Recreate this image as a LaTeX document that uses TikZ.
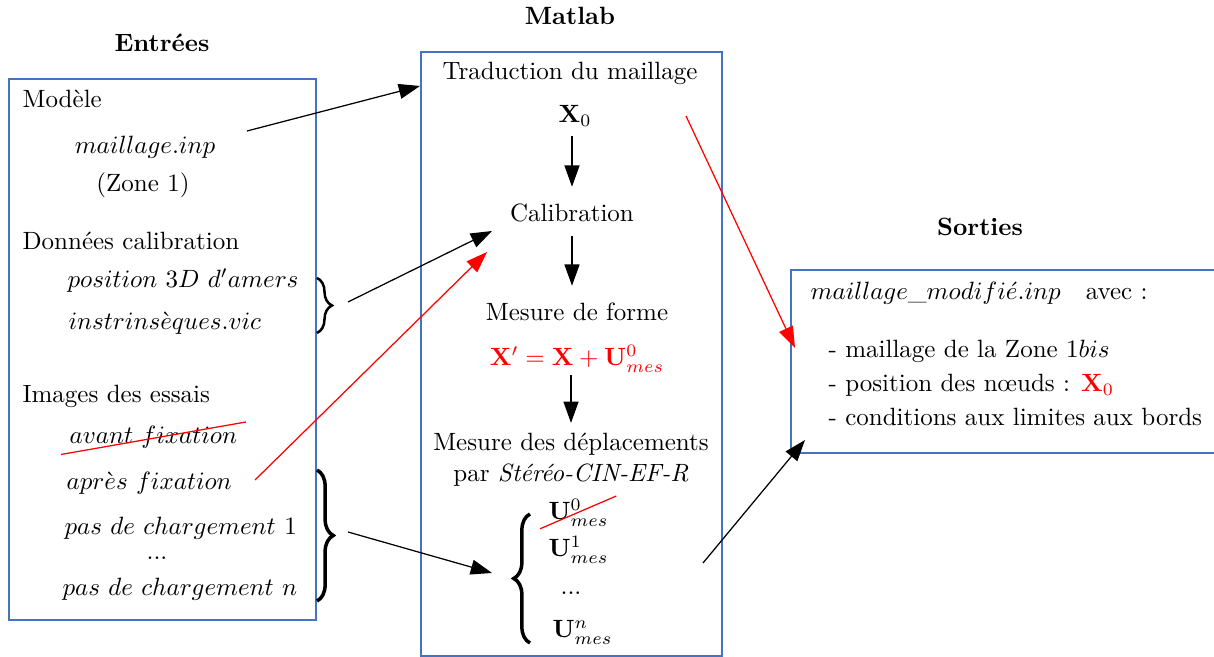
\documentclass[tikz,border=0pt]{standalone}
\usepackage{amsmath}
\usetikzlibrary{arrows.meta,decorations.pathreplacing}
\definecolor{boxblue}{RGB}{68,114,196}
\tikzset{every picture/.style={line width=0.5pt}}
\tikzset{
  txt/.style={inner sep=0pt, anchor=base},
  txtl/.style={inner sep=0pt, anchor=base west},
  panel/.style={draw=boxblue, line width=0.6pt},
  arr/.style={-{Triangle[length=8.5pt,width=6pt]}},
  redarr/.style={arr, color=red},
  strike/.style={draw=red, line width=0.5pt},
  curly/.style={decorate, decoration={brace, amplitude=6.5pt, aspect=0.5}, line width=1.4pt},
  smallcurly/.style={curly, line width=1pt, decoration={brace, amplitude=6pt}}
}

\begin{document}
\begin{tikzpicture}[x=0.4pt,y=0.4pt,yscale=-1,xscale=1]
\useasboundingbox (0,0) rectangle (1214,657);

%Shape: Rectangle [entrees]
\draw[panel] (9,79) rectangle (316,620);
%Shape: Rectangle [matlab]
\draw[panel] (421,52) rectangle (722,656);
%Shape: Rectangle [sorties]
\draw[panel] (791,270) rectangle (1230,453);

% Titles
\node[txt] (ttl-in) at (162,52) {\textbf{Entrées}};
\node[txt] (ttl-mat) at (570,25) {\textbf{Matlab}};
\node[txt] (ttl-out) at (980,236) {\textbf{Sorties}};

% Text Node : entrees
\node[txtl] (modele) at (22,108) {Modèle};
\node[txt] (mail) at (145,154) {$maillage.inp$};
\node[txt] (zone) at (143,192) {(Zone 1)};
\node[txtl] (donnees) at (22,250) {Données calibration};
\node[txtl] (amers) at (67,288) {$position\ 3D\ d'amers$};
\node[txtl] (intr) at (68,330) {$instrins\grave{e}ques.vic$};
\node[txtl] (images) at (22,403) {Images des essais};
\node[txtl] (avant) at (69,444) {$avant\ fixation$};
\node[txtl] (apres) at (66,490) {$apr\grave{e}s\ fixation$};
\node[txtl] (pas1) at (64,535) {$pas\ de\ chargement\ 1$};
\node[txt] (pasdots) at (157,560) {...};
\node[txtl] (pasn) at (62,596) {$pas\ de\ chargement\ n$};

% Braces
\draw[smallcurly] (317,278) -- (317,333);
\draw[curly] (317,470) -- (317,601);
\draw[curly] (530,643) -- (530,514);

% Text Node : matlab
\node[txt] (trad) at (570,80) {Traduction du maillage};
\node[txt] (x0) at (575,123) {$\mathbf{X}_0$};
\node[txt] (calib) at (572,222) {Calibration};
\node[txt] (forme) at (577,321) {Mesure de forme};
\node[txt, text=red] (eq) at (577,366) {$\mathbf{X'} = \mathbf{X} + \mathbf{U}^0_{mes}$};
\node[txt] (depl) at (571,451) {Mesure des déplacements};
\node[txt] (stereo) at (571,482) {par \textit{Stéréo-CIN-EF-R}};
\node[txtl] (u0) at (548,520) {$\mathbf{U}^0_{mes}$};
\node[txtl] (u1) at (548,557) {$\mathbf{U}^1_{mes}$};
\node[txt] (udots) at (571,595) {...};
\node[txtl] (un) at (552,638) {$\mathbf{U}^n_{mes}$};

% Text Node : sorties
\node[txtl] (modif) at (810,300) {$maillage\_modifi\acute{e}.inp$\quad avec :};
\node[txtl] (s1) at (828,358) {- maillage de la Zone $1bis$};
\node[txtl] (s2) at (828,392) {- position des nœuds : {\color{red}$\mathbf{X}_0$}};
\node[txtl] (s3) at (828,426) {- conditions aux limites aux bords};

% Strike lines
\draw[strike] ([shift={(-8,5)}]avant.south west) -- ([shift={(8,-4)}]avant.north east);
\draw[strike] ([shift={(-8,2)}]u0.south west) -- ([shift={(7,-3)}]u0.north east);

% Connector ends
\coordinate (mail-out) at (247,131);
\coordinate (trad-in) at (420,86);
\coordinate (brcal-out) at (348,302);
\coordinate (calib-in) at (492,231);
\coordinate (apres-out) at (255,480);
\coordinate (calib-in2) at (487,252);
\coordinate (brimg-out) at (348,532);
\coordinate (bru-in) at (492,573);
\coordinate (x0-out) at (686,116);
\coordinate (modif-in) at (795,348);
\coordinate (u-out) at (703,563);
\coordinate (sorties-in) at (805,440);

% Connectors
\draw[arr] (mail-out) -- (trad-in);
\draw[arr] (brcal-out) -- (calib-in);
\draw[redarr] (apres-out) -- (calib-in2);
\draw[arr] (brimg-out) -- (bru-in);
\draw[redarr] (x0-out) -- (modif-in);
\draw[arr] (u-out) -- (sorties-in);
\draw[arr, shorten <=3.6pt, shorten >=6.8pt] (calib.north |- x0.south) -- (calib.north);
\draw[arr, shorten <=5.2pt, shorten >=6.8pt] (calib.south) -- (calib.south |- forme.north);
\draw[arr, shorten <=1pt, shorten >=4pt] (depl.north |- eq.south) -- (depl.north);

\end{tikzpicture}
\end{document}
